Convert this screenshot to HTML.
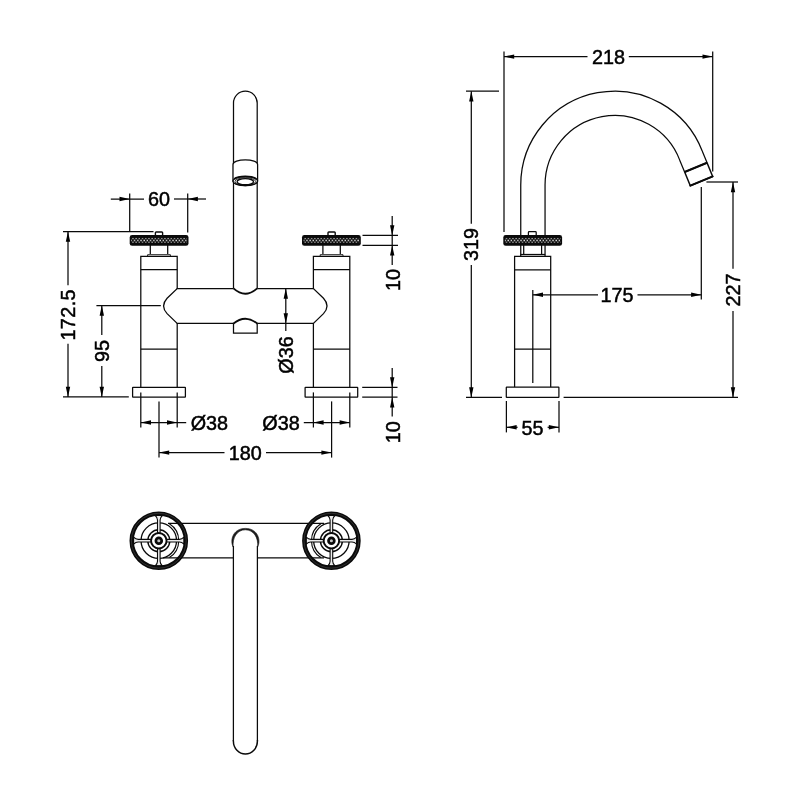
<!DOCTYPE html>
<html lang="en">
<head>
<meta charset="utf-8">
<title>Bridge mixer tap – technical drawing</title>
<style>
html,body{margin:0;padding:0;background:#fff;}
body{width:800px;height:800px;overflow:hidden;}
svg{display:block;will-change:transform;}
svg text{font-family:"Liberation Sans",sans-serif;fill:#000;stroke:#000;stroke-width:0.5px;text-anchor:middle;}
svg .ah{fill:#000;stroke:none;}
</style>
</head>
<body>
<svg width="800" height="800" viewBox="0 0 800 800" fill="none" stroke="#0a0a0a" stroke-width="1.25">
<defs>
<pattern id="kn" x="-0.8" y="0" width="3.2" height="10.6" patternUnits="userSpaceOnUse">
<rect x="0.2" y="2.9" width="1.3" height="1.2" fill="#c4c4c4" stroke="none"/>
<rect x="1.85" y="4.7" width="1.35" height="1.35" fill="#ffffff" stroke="none"/>
<rect x="0.2" y="6.6" width="1.3" height="1.2" fill="#c4c4c4" stroke="none"/>
</pattern>
</defs>
<rect x="0" y="0" width="800" height="800" fill="#fff" stroke="none"/>
<rect x="155.40" y="232.00" width="7.20" height="4.00" rx="0.8" fill="#fff" stroke-width="1.4"/>
<path d="M150.30,245.00 V254.00 M167.70,245.00 V254.00"/>
<path d="M147.60,256.20 V254.70 H170.40 V256.20" stroke-width="0.9"/>
<g transform="translate(129.70,235.00)" stroke="none">
<rect x="0" y="0" width="58.8" height="10.8" rx="2.4" fill="#0a0a0a"/>
<rect x="1.6" y="2.6" width="55.60" height="5.4" fill="url(#kn)"/>
</g>
<path d="M140.80,387.4 V256.3 H177.20 V387.4"/>
<line x1="140.80" y1="269.60" x2="177.20" y2="269.60"/>
<line x1="140.80" y1="349.20" x2="177.20" y2="349.20"/>
<rect x="132.60" y="387.40" width="52.80" height="9.80" rx="0.4" fill="#fff"/>
<rect x="328.00" y="232.00" width="7.20" height="4.00" rx="0.8" fill="#fff" stroke-width="1.4"/>
<path d="M322.90,245.00 V254.00 M340.30,245.00 V254.00"/>
<path d="M320.20,256.20 V254.70 H343.00 V256.20" stroke-width="0.9"/>
<g transform="translate(302.00,235.00)" stroke="none">
<rect x="0" y="0" width="58.8" height="10.8" rx="2.4" fill="#0a0a0a"/>
<rect x="1.6" y="2.6" width="55.60" height="5.4" fill="url(#kn)"/>
</g>
<path d="M313.40,387.4 V256.3 H349.80 V387.4"/>
<line x1="313.40" y1="269.60" x2="349.80" y2="269.60"/>
<line x1="313.40" y1="349.20" x2="349.80" y2="349.20"/>
<rect x="305.10" y="387.40" width="52.60" height="9.80" rx="0.4" fill="#fff"/>
<path d="M177.20,288.5 L167.10,298.25 Q160.10,305.95 167.10,313.65 L177.20,323.4 H313.40 L323.50,313.65 Q330.50,305.95 323.50,298.25 L313.40,288.5 Z" fill="#fff" stroke="none"/>
<path d="M233.5,288.5 V103.05 A11.85,11.85 0 0 1 257.2,103.05 V288.5 Q245.35,299.1 233.5,288.5 Z" fill="#fff" stroke="none"/>
<path d="M233.5,288.5 V103.05 A11.85,11.85 0 0 1 257.2,103.05 V288.5"/>
<path d="M233.5,288.3 Q245.35,299.1 257.2,288.3" stroke-width="1.8"/>
<path d="M233.5,288.5 H177.20 L167.10,298.25 Q160.10,305.95 167.10,313.65 L177.20,323.4 H233.5"/>
<path d="M257.2,288.5 H313.40 L323.50,298.25 Q330.50,305.95 323.50,313.65 L313.40,323.4 H257.2"/>
<path d="M233.5,323.7 Q245.35,313.79999999999995 257.2,323.7 V333 H233.5 Z" fill="#fff" stroke="none"/>
<path d="M233.5,323.4 V333 H257.2 V323.4"/>
<path d="M233.2,323.7 Q245.35,313.79999999999995 257.5,323.7" stroke-width="1.8"/>
<path d="M233.0,181 V164.4 A12.3,4.6 0 0 1 257.6,164.4 V181 A12.3,4.6 0 0 1 233.0,181 Z" fill="#fff"/>
<ellipse cx="245.3" cy="181.1" rx="12.3" ry="4.6" fill="#fff"/>
<path d="M234.2,179.0 A12.3,4.6 0 0 1 256.4,179.0" stroke-width="1.9"/>
<ellipse cx="245.3" cy="181.5" rx="10.3" ry="3.8" stroke-width="0.8"/>
<ellipse cx="245.3" cy="181.7" rx="8.2" ry="3.0" stroke-width="1.3"/>
<line x1="129.70" y1="193.60" x2="129.70" y2="231.50"/>
<line x1="187.70" y1="193.60" x2="187.70" y2="232.50"/>
<line x1="110.80" y1="199.00" x2="144.00" y2="199.00"/>
<polygon class="ah" points="129.70,199.00 119.50,196.80 119.50,201.20"/>
<line x1="174.00" y1="199.00" x2="206.00" y2="199.00"/>
<polygon class="ah" points="187.70,199.00 197.90,196.80 197.90,201.20"/>
<text transform="translate(159.00,199.00)" x="0" y="7.0" font-size="19.8">60</text>
<line x1="63.00" y1="231.60" x2="153.50" y2="231.60"/>
<line x1="63.00" y1="396.90" x2="128.80" y2="396.90"/>
<line x1="68.00" y1="231.60" x2="68.00" y2="285.20"/>
<line x1="68.00" y1="343.80" x2="68.00" y2="396.90"/>
<polygon class="ah" points="68.00,231.60 65.80,241.80 70.20,241.80"/>
<polygon class="ah" points="68.00,396.90 65.80,386.70 70.20,386.70"/>
<text transform="translate(68.00,314.80) rotate(-90)" x="0" y="7.0" font-size="19.8" letter-spacing="0.4">172.5</text>
<line x1="96.40" y1="305.50" x2="160.80" y2="305.50"/>
<line x1="101.80" y1="305.50" x2="101.80" y2="335.00"/>
<line x1="101.80" y1="366.00" x2="101.80" y2="396.90"/>
<polygon class="ah" points="101.80,305.50 99.60,315.70 104.00,315.70"/>
<polygon class="ah" points="101.80,396.90 99.60,386.70 104.00,386.70"/>
<text transform="translate(101.80,351.00) rotate(-90)" x="0" y="7.0" font-size="19.8">95</text>
<line x1="285.80" y1="288.50" x2="285.80" y2="331.00"/>
<polygon class="ah" points="285.80,288.50 283.60,298.70 288.00,298.70"/>
<polygon class="ah" points="285.80,323.40 283.60,313.20 288.00,313.20"/>
<text transform="translate(285.80,355.00) rotate(-90)" x="0" y="7.0" font-size="19.8">Ø36</text>
<line x1="140.80" y1="392.40" x2="140.80" y2="427.50"/>
<line x1="177.20" y1="392.40" x2="177.20" y2="427.50"/>
<line x1="159.00" y1="401.40" x2="159.00" y2="457.60"/>
<line x1="140.80" y1="422.50" x2="186.20" y2="422.50"/>
<polygon class="ah" points="140.80,422.50 151.00,420.30 151.00,424.70"/>
<polygon class="ah" points="177.20,422.50 167.00,420.30 167.00,424.70"/>
<line x1="313.40" y1="392.40" x2="313.40" y2="427.50"/>
<line x1="349.80" y1="392.40" x2="349.80" y2="427.50"/>
<line x1="331.60" y1="401.40" x2="331.60" y2="457.60"/>
<line x1="303.80" y1="422.50" x2="349.80" y2="422.50"/>
<polygon class="ah" points="313.40,422.50 323.60,420.30 323.60,424.70"/>
<polygon class="ah" points="349.80,422.50 339.60,420.30 339.60,424.70"/>
<text transform="translate(209.40,422.50)" x="0" y="7.0" font-size="19.8">Ø38</text>
<text transform="translate(281.00,422.50)" x="0" y="7.0" font-size="19.8">Ø38</text>
<line x1="159.00" y1="452.60" x2="224.50" y2="452.60"/>
<line x1="266.00" y1="452.60" x2="331.60" y2="452.60"/>
<polygon class="ah" points="159.00,452.60 169.20,450.40 169.20,454.80"/>
<polygon class="ah" points="331.60,452.60 321.40,450.40 321.40,454.80"/>
<text transform="translate(245.20,452.60)" x="0" y="7.0" font-size="19.8">180</text>
<line x1="362.50" y1="235.40" x2="398.00" y2="235.40"/>
<line x1="362.50" y1="245.40" x2="398.00" y2="245.40"/>
<line x1="392.20" y1="216.00" x2="392.20" y2="265.00"/>
<polygon class="ah" points="392.20,235.40 390.00,225.20 394.40,225.20"/>
<polygon class="ah" points="392.20,245.40 390.00,255.60 394.40,255.60"/>
<text transform="translate(392.60,280.00) rotate(-90)" x="0" y="7.0" font-size="19.8">10</text>
<line x1="362.20" y1="387.40" x2="397.50" y2="387.40"/>
<line x1="362.20" y1="397.20" x2="397.50" y2="397.20"/>
<line x1="392.20" y1="368.00" x2="392.20" y2="416.50"/>
<polygon class="ah" points="392.20,387.40 390.00,377.20 394.40,377.20"/>
<polygon class="ah" points="392.20,397.20 390.00,407.40 394.40,407.40"/>
<text transform="translate(392.60,432.20) rotate(-90)" x="0" y="7.0" font-size="19.8">10</text>
<path d="M532.90,256 V185.10 A81.80,81.80 0 0 1 691.07,155.79 L695.85,167.40" stroke-width="25.55" fill="none" stroke-linejoin="round"/>
<path d="M532.90,256 V185.10 A81.80,81.80 0 0 1 691.07,155.79 L695.85,167.40" stroke="#fff" stroke-width="23.05" fill="none" stroke-linejoin="round"/>
<polygon points="684.66,172.01 707.04,162.79 712.67,176.48 690.30,185.69" fill="#fff" stroke-linejoin="round" stroke-width="1.5"/>
<line x1="684.66" y1="172.01" x2="707.04" y2="162.79" stroke-width="2.0"/>
<line x1="690.30" y1="185.69" x2="712.67" y2="176.48" stroke-width="1.9" stroke-linecap="round"/>
<line x1="504.00" y1="51.40" x2="504.00" y2="232.00"/>
<path d="M514.6,387.2 V256.4 H550.7 V387.2" fill="#fff"/>
<line x1="514.60" y1="269.80" x2="550.70" y2="269.80"/>
<line x1="514.60" y1="349.20" x2="550.70" y2="349.20"/>
<rect x="506.30" y="387.20" width="52.60" height="10.10" rx="0.4" fill="#fff"/>
<line x1="523.70" y1="245.00" x2="523.70" y2="254.40"/>
<line x1="541.60" y1="245.00" x2="541.60" y2="254.40"/>
<line x1="520.40" y1="254.50" x2="545.20" y2="254.50"/>
<rect x="528.40" y="231.7" width="7.8" height="4.6" rx="0.8" fill="#fff"/>
<g transform="translate(503.30,235.00)" stroke="none">
<rect x="0" y="0" width="58.8" height="10.8" rx="2.4" fill="#0a0a0a"/>
<rect x="1.6" y="2.6" width="55.60" height="5.4" fill="url(#kn)"/>
</g>
<line x1="712.70" y1="51.40" x2="712.70" y2="171.50"/>
<line x1="504.00" y1="56.60" x2="587.50" y2="56.60"/>
<line x1="628.80" y1="56.60" x2="712.70" y2="56.60"/>
<polygon class="ah" points="504.00,56.60 514.20,54.40 514.20,58.80"/>
<polygon class="ah" points="712.70,56.60 702.50,54.40 702.50,58.80"/>
<text transform="translate(608.40,56.50)" x="0" y="7.0" font-size="19.8">218</text>
<line x1="466.00" y1="91.20" x2="499.00" y2="91.20"/>
<line x1="466.00" y1="397.40" x2="502.00" y2="397.40"/>
<line x1="471.30" y1="91.20" x2="471.30" y2="223.80"/>
<line x1="471.30" y1="265.00" x2="471.30" y2="397.40"/>
<polygon class="ah" points="471.30,91.20 469.10,101.40 473.50,101.40"/>
<polygon class="ah" points="471.30,397.40 469.10,387.20 473.50,387.20"/>
<text transform="translate(471.30,244.60) rotate(-90)" x="0" y="7.0" font-size="19.8">319</text>
<line x1="532.80" y1="289.90" x2="532.80" y2="383.00"/>
<line x1="701.30" y1="187.00" x2="701.30" y2="299.50"/>
<line x1="532.80" y1="294.80" x2="598.00" y2="294.80"/>
<line x1="637.50" y1="294.80" x2="701.30" y2="294.80"/>
<polygon class="ah" points="532.80,294.80 543.00,292.60 543.00,297.00"/>
<polygon class="ah" points="701.30,294.80 691.10,292.60 691.10,297.00"/>
<text transform="translate(617.00,294.80)" x="0" y="7.0" font-size="19.8">175</text>
<line x1="706.40" y1="182.00" x2="738.00" y2="182.00"/>
<line x1="563.60" y1="397.40" x2="738.00" y2="397.40"/>
<line x1="733.00" y1="182.00" x2="733.00" y2="268.80"/>
<line x1="733.00" y1="311.00" x2="733.00" y2="397.40"/>
<polygon class="ah" points="733.00,182.00 730.80,192.20 735.20,192.20"/>
<polygon class="ah" points="733.00,397.40 730.80,387.20 735.20,387.20"/>
<text transform="translate(733.00,290.00) rotate(-90)" x="0" y="7.0" font-size="19.8">227</text>
<line x1="506.40" y1="401.00" x2="506.40" y2="432.40"/>
<line x1="559.00" y1="401.00" x2="559.00" y2="432.40"/>
<line x1="506.40" y1="427.30" x2="517.60" y2="427.30"/>
<line x1="547.60" y1="427.30" x2="559.00" y2="427.30"/>
<polygon class="ah" points="506.40,427.30 516.60,425.10 516.60,429.50"/>
<polygon class="ah" points="559.00,427.30 548.80,425.10 548.80,429.50"/>
<text transform="translate(532.60,427.50)" x="0" y="7.0" font-size="19.8">55</text>
<line x1="168.00" y1="523.40" x2="324.00" y2="523.40"/>
<line x1="163.00" y1="557.80" x2="324.00" y2="557.80"/>
<path d="M233.4,546 V741.2 A12.00,12.8 0 0 0 257.4,741.2 V546 Z" fill="#fff" stroke="none"/>
<path d="M233.4,546 V741.2 M257.4,546 V741.2"/>
<path d="M233.25,740.2 L233.4,741.2 A12.00,12.8 0 0 0 257.4,741.2 L257.54999999999995,740.2" stroke-width="1.45" stroke-linejoin="round"/>
<path d="M233.20000000000002,547 C229.8,541 232.4,528.4 245.35,528.4 C258.4,528.4 261.0,541 257.59999999999997,547 C258.59999999999997,538 253.89999999999998,529.8 245.35,529.8 C236.9,529.8 232.20000000000002,538 233.20000000000002,547 Z" fill="#1c1c1c" stroke-width="0.6"/>
<g transform="translate(158.8,540.7)">
<path d="M10.55,-16.88 A19.9,19.9 0 0 1 10.55,16.88" stroke-width="1.1" fill="none"/>
<circle r="17.75" stroke-width="1.3" fill="none"/>
<circle r="11" stroke-width="1.4" fill="none"/>
<path transform="rotate(0)" d="M7,-1.3 H20.6 C22.6,-1.3 23.8,-2.1 25.2,-3.5 V3.5 C23.8,2.1 22.6,1.3 20.6,1.3 H7 Z" fill="#ececec" stroke-width="1.1"/>
<path transform="rotate(90)" d="M7,-1.3 H20.6 C22.6,-1.3 23.8,-2.1 25.2,-3.5 V3.5 C23.8,2.1 22.6,1.3 20.6,1.3 H7 Z" fill="#ececec" stroke-width="1.1"/>
<path transform="rotate(180)" d="M7,-1.3 H20.6 C22.6,-1.3 23.8,-2.1 25.2,-3.5 V3.5 C23.8,2.1 22.6,1.3 20.6,1.3 H7 Z" fill="#ececec" stroke-width="1.1"/>
<path transform="rotate(270)" d="M7,-1.3 H20.6 C22.6,-1.3 23.8,-2.1 25.2,-3.5 V3.5 C23.8,2.1 22.6,1.3 20.6,1.3 H7 Z" fill="#ececec" stroke-width="1.1"/>
<circle r="27.1" stroke-width="4.4" fill="none"/>
<circle r="27.4" stroke-width="0.4" stroke="#6a6a6a" fill="none"/>
<circle r="7.75" stroke-width="1.9" fill="#fff"/>
<circle r="2.9" stroke-width="2.7" fill="#c4c4c4"/>
</g>
<g transform="translate(331.4,540.7)">
<path d="M-10.55,-16.88 A19.9,19.9 0 0 0 -10.55,16.88" stroke-width="1.1" fill="none"/>
<circle r="17.75" stroke-width="1.3" fill="none"/>
<circle r="11" stroke-width="1.4" fill="none"/>
<path transform="rotate(0)" d="M7,-1.3 H20.6 C22.6,-1.3 23.8,-2.1 25.2,-3.5 V3.5 C23.8,2.1 22.6,1.3 20.6,1.3 H7 Z" fill="#ececec" stroke-width="1.1"/>
<path transform="rotate(90)" d="M7,-1.3 H20.6 C22.6,-1.3 23.8,-2.1 25.2,-3.5 V3.5 C23.8,2.1 22.6,1.3 20.6,1.3 H7 Z" fill="#ececec" stroke-width="1.1"/>
<path transform="rotate(180)" d="M7,-1.3 H20.6 C22.6,-1.3 23.8,-2.1 25.2,-3.5 V3.5 C23.8,2.1 22.6,1.3 20.6,1.3 H7 Z" fill="#ececec" stroke-width="1.1"/>
<path transform="rotate(270)" d="M7,-1.3 H20.6 C22.6,-1.3 23.8,-2.1 25.2,-3.5 V3.5 C23.8,2.1 22.6,1.3 20.6,1.3 H7 Z" fill="#ececec" stroke-width="1.1"/>
<circle r="27.1" stroke-width="4.4" fill="none"/>
<circle r="27.4" stroke-width="0.4" stroke="#6a6a6a" fill="none"/>
<circle r="7.75" stroke-width="1.9" fill="#fff"/>
<circle r="2.9" stroke-width="2.7" fill="#c4c4c4"/>
</g>
</svg>
</body>
</html>
